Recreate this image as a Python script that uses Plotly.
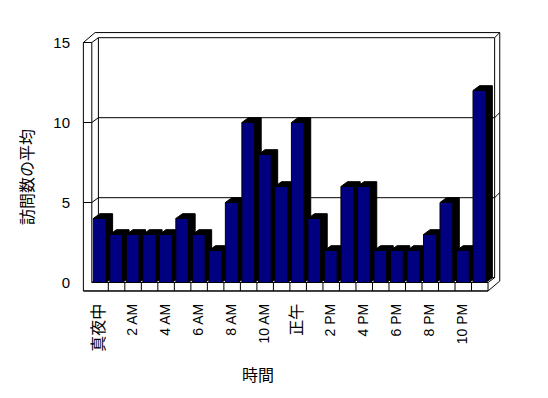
import plotly.graph_objects as go

# ---- data ----
hours = ["真夜中", "1 AM", "2 AM", "3 AM", "4 AM", "5 AM", "6 AM", "7 AM", "8 AM", "9 AM",
         "10 AM", "11 AM", "正午", "1 PM", "2 PM", "3 PM", "4 PM", "5 PM", "6 PM", "7 PM",
         "8 PM", "9 PM", "10 PM", "11 PM"]
visits = [4, 3, 3, 3, 3, 4, 3, 2, 5, 10, 8, 6, 10, 4, 2, 6, 6, 2, 2, 2, 3, 5, 2, 12]
y_ticks = [0, 5, 10, 15]
x_title = "時間"
y_title = "訪問数の平均"

# ---- pseudo-3D geometry (data units) ----
N = len(visits)
YMAX = 15
BAR_OFF, BAR_W = 0.09, 0.77          # front face of bar within its category
DX1, DY1 = 0.40, 0.30                # depth offset to the inner back wall
DX2, DY2 = 0.71, 0.62                # depth offset to the outer back edge
WALL, FLOOR = 0.51, 0.53             # slab thickness of left wall / floor

NAVY = "#000080"
LINE = dict(color="black", width=1)

shapes = []

def poly(pts, fill="white", line=LINE):
    d = "M " + " L ".join(f"{x},{y}" for x, y in pts) + " Z"
    shapes.append(dict(type="path", path=d, xref="x", yref="y", layer="below",
                       fillcolor=fill, line=line))

def seg(x0, y0, x1, y1):
    shapes.append(dict(type="line", x0=x0, y0=y0, x1=x1, y1=y1, xref="x", yref="y",
                       layer="below", line=LINE))

# outer silhouette of walls + floor
poly([(-WALL, -FLOOR), (-WALL, YMAX), (-WALL + DX2, YMAX + DY2), (N + DX2, YMAX + DY2),
      (N + DX2, -FLOOR + DY2), (N, -FLOOR)])
# inner back wall face
poly([(DX1, DY1), (DX1, YMAX + DY1), (N + DX1, YMAX + DY1), (N + DX1, DY1)])
# left wall front face edges
seg(-WALL, YMAX, 0, YMAX)
seg(0, 0, 0, YMAX)
seg(0, YMAX, DX1, YMAX + DY1)
seg(N + DX1, YMAX + DY1, N + DX2, YMAX + DY2)
# floor
seg(0, 0, N, 0)
seg(N, 0, N + DX1, DY1)
seg(N, 0, N, -FLOOR)
seg(-WALL, -FLOOR, N, -FLOOR)
for k in range(1, N):
    seg(k, -FLOOR, k, 0)
seg(0, 0, DX1, DY1)
# gridlines and tick marks
for t in y_ticks[1:-1]:
    seg(DX1, t + DY1, N + DX1, t + DY1)
    seg(-WALL, t, 0, t)
    seg(0, t, DX1, t + DY1)
    seg(N + DX1, t + DY1, N + DX2, t + DY2)

# dark side + top faces of each bar
for i, v in enumerate(visits):
    L = i + BAR_OFF
    R = L + BAR_W
    poly([(L, v), (L + DX1, v + DY1), (R + DX1, v + DY1), (R + DX1, DY1), (R, 0), (R, v)],
         fill="black", line=dict(color="black", width=1))

xc = [i + BAR_OFF + BAR_W / 2 for i in range(N)]

def tick_label(s):
    # CJK labels drawn a little larger, like the original
    if any(ord(c) > 0x3000 for c in s):
        return f'<span style="font-size:16px;color:black">{s}</span>'
    return s

fig = go.Figure()
fig.add_trace(go.Bar(x=xc, y=visits, width=BAR_W, marker=dict(color=NAVY, line=LINE),
                     hoverinfo="skip", showlegend=False))

FONT = "Liberation Sans, Arial, Noto Sans CJK JP, sans-serif"
OFF = 8  # page body margin of the html page
PX_PER_X, PX_PER_Y = 16.51, 16.0
L_PX, R_PX, T_PX, B_PX = 75 - OFF, 510 - OFF, 25 - OFF, 300 - OFF
X0_PX, Y0_PX = 91.8 - OFF, 282.5 - OFF

fig.update_layout(
    width=548, height=398,
    margin=dict(l=L_PX, r=548 - R_PX, t=T_PX, b=398 - B_PX, pad=0),
    paper_bgcolor="white", plot_bgcolor="white",
    shapes=shapes,
    font=dict(family=FONT, size=14, color="black"),
    xaxis=dict(range=[(L_PX - X0_PX) / PX_PER_X, (R_PX - X0_PX) / PX_PER_X],
               tickmode="array", tickvals=[xc[i] for i in range(0, N, 2)],
               ticktext=[tick_label(hours[i]) for i in range(0, N, 2)],
               tickangle=-90, showgrid=False, zeroline=False, showline=False, ticks="",
               ticklabelstandoff=0, tickfont=dict(color="black", size=14)),
    yaxis=dict(range=[(Y0_PX - B_PX) / PX_PER_Y, (Y0_PX - T_PX) / PX_PER_Y],
               tickmode="array", tickvals=y_ticks, ticktext=[str(t) for t in y_ticks],
               showgrid=False, zeroline=False, showline=False, ticks="",
               ticklabelstandoff=4, tickfont=dict(color="black", size=15)),
    annotations=[
        dict(text=x_title, xref="paper", yref="paper",
             x=(258 - OFF - L_PX) / (R_PX - L_PX),
             y=(B_PX - (375 - OFF)) / (B_PX - T_PX), showarrow=False, xanchor="center",
             yanchor="middle", font=dict(size=16)),
        dict(text=y_title, xref="paper", yref="paper",
             x=(27 - OFF - L_PX) / (R_PX - L_PX),
             y=(B_PX - (177 - OFF)) / (B_PX - T_PX), showarrow=False, xanchor="center",
             yanchor="middle", textangle=-90, font=dict(size=16)),
    ],
)

fig.write_html("out.html")
